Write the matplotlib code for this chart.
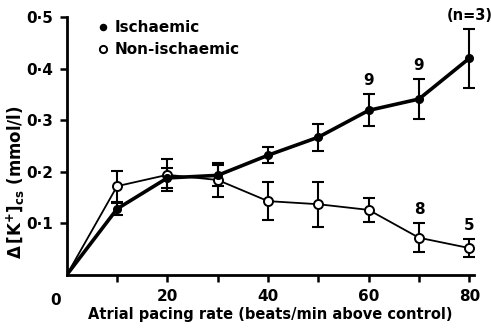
import numpy as np
import matplotlib.pyplot as plt

plt.rcParams['font.family'] = 'DejaVu Sans'
plt.rcParams['font.weight'] = 'bold'
plt.rcParams['axes.labelweight'] = 'bold'

rate = [0, 10, 20, 30, 40, 50, 60, 70, 80]
isch = [0, 0.128, 0.188, 0.193, 0.232, 0.267, 0.319, 0.341, 0.420]
isch_err = [0, 0.012, 0.020, 0.020, 0.016, 0.026, 0.031, 0.039, 0.057]
nonisch = [0, 0.172, 0.194, 0.184, 0.143, 0.137, 0.126, 0.072, 0.052]
nonisch_err = [0, 0.030, 0.031, 0.033, 0.037, 0.044, 0.024, 0.028, 0.018]

isch_n = {60: '9', 70: '9', 80: '(n=3)'}
nonisch_n = {70: '8', 80: '5'}

fig = plt.figure(figsize=(4.91, 3.28), dpi=100)
ax = fig.add_axes([0.136, 0.162, 0.830, 0.786])

ax.errorbar(rate[1:], nonisch[1:], yerr=nonisch_err[1:], fmt='none',
            ecolor='black', elinewidth=1.5, capsize=4, capthick=1.5, zorder=2)
ax.errorbar(rate[1:], isch[1:], yerr=isch_err[1:], fmt='none',
            ecolor='black', elinewidth=1.5, capsize=4, capthick=1.5, zorder=2)

ax.plot(rate, nonisch, '-', color='black', lw=1.3, zorder=3)
ax.plot(rate[1:], nonisch[1:], 'o', mfc='white', mec='black', mew=1.4, ms=6.5,
        zorder=4, linestyle='none', label='Non-ischaemic')
ax.plot(rate, isch, '-', color='black', lw=2.6, zorder=5)
ax.plot(rate[1:], isch[1:], 'o', color='black', ms=5.5, zorder=6,
        linestyle='none', label='Ischaemic')

# n labels
for x, t in isch_n.items():
    i = rate.index(x)
    ax.text(x, isch[i] + isch_err[i] + 0.012, t, ha='center', va='bottom',
            fontsize=10.5 if len(t) > 1 else 11)
for x, t in nonisch_n.items():
    i = rate.index(x)
    ax.text(x, nonisch[i] + nonisch_err[i] + 0.012, t, ha='center', va='bottom',
            fontsize=11)

ax.set_xlim(0, 81)
ax.set_ylim(0, 0.5)
ax.set_xticks(np.arange(10, 81, 10))
ax.set_xticklabels(['', '20', '', '40', '', '60', '', '80'])
ax.set_yticks([0.1, 0.2, 0.3, 0.4, 0.5])
ax.set_yticklabels(['0·1', '0·2', '0·3', '0·4', '0·5'])
ax.text(-2.2, -0.035, '0', ha='center', va='top', fontsize=11,
        transform=ax.transData)

for s in ['top', 'right']:
    ax.spines[s].set_visible(False)
for s in ['left', 'bottom']:
    ax.spines[s].set_linewidth(2)
ax.tick_params(direction='out', length=5, width=1.8, labelsize=11, pad=5)

ax.set_xlabel('Atrial pacing rate (beats/min above control)', fontsize=10.5,
              labelpad=2)
ax.set_ylabel(r'$\Delta\,[\mathbf{K}^{+}]_{\mathbf{cs}}$ (mmol/l)', fontsize=12,
              va='center')
ax.yaxis.set_label_coords(-0.125, 0.36)

h, l = ax.get_legend_handles_labels()
ax.legend(h[::-1], l[::-1], loc='upper left', bbox_to_anchor=(0.045, 1.04),
          frameon=False, handlelength=0.6, handletextpad=0.4, labelspacing=0.45,
          fontsize=11, markerscale=0.8)

fig.savefig('out.png', dpi=100)
